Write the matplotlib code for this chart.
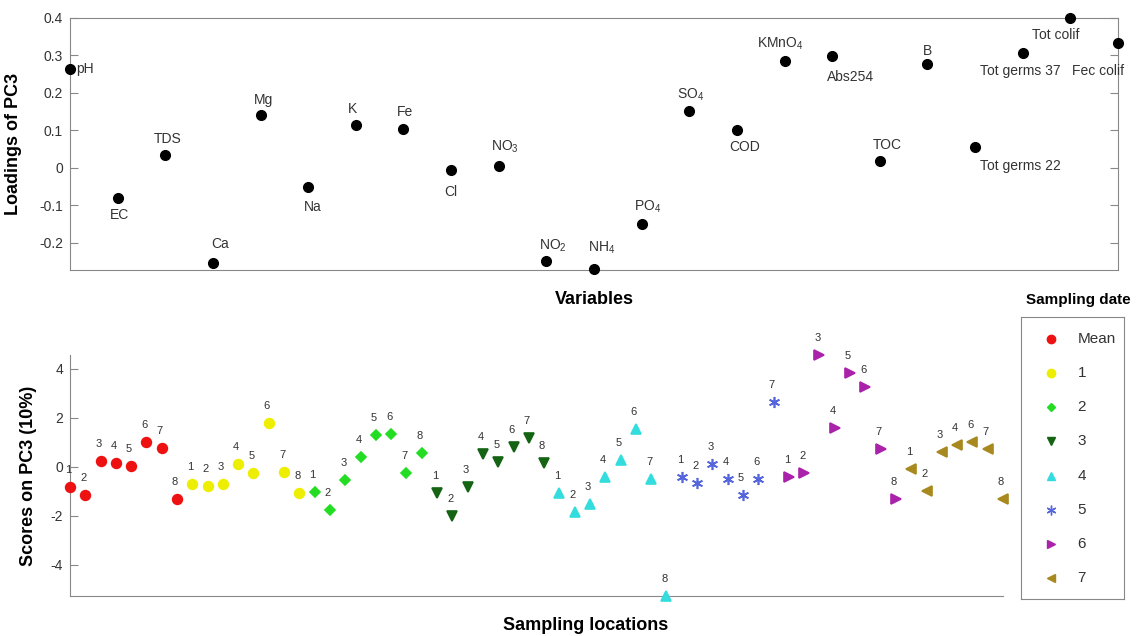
import matplotlib
matplotlib.use('Agg')
import matplotlib.pyplot as plt
import numpy as np

plt.rcParams['font.family'] = ['Liberation Sans', 'DejaVu Sans']
plt.rcParams['mathtext.default'] = 'regular'
plt.rcParams['axes.unicode_minus'] = False

# top panel: loadings of PC3
variables = ['pH', 'EC', 'TDS', 'Ca', 'Mg', 'Na', 'K', 'Fe', 'Cl', 'NO$_3$', 'NO$_2$',
             'NH$_4$', 'PO$_4$', 'SO$_4$', 'COD', 'KMnO$_4$', 'Abs254', 'TOC', 'B',
             'Tot germs 22', 'Tot germs 37', 'Tot colif', 'Fec colif']
loadings = [0.265, -0.080, 0.035, -0.253, 0.141, -0.051, 0.115, 0.104, -0.005, 0.005,
            -0.248, -0.269, -0.149, 0.152, 0.101, 0.285, 0.299, 0.019, 0.277,
            0.056, 0.307, 0.400, 0.333]

# bottom panel: scores on PC3 per sampling date
dates = ['Mean', '1', '2', '3', '4', '5', '6', '7']
scores_mean = [-0.82, -1.14, 0.24, 0.16, 0.04, 1.02, 0.78, -1.30]
scores_d1 = [-0.69, -0.78, -0.69, 0.12, -0.25, 1.79, -0.20, -1.06]
scores_d2 = [-1.02, -1.76, -0.53, 0.41, 1.31, 1.35, -0.25, 0.57]
scores_d3 = [-1.06, -2.00, -0.82, 0.53, 0.20, 0.82, 1.18, 0.16]
scores_d4 = [-1.06, -1.84, -1.51, -0.40, 0.29, 1.55, -0.49, -5.27]
scores_d5 = [-0.40, -0.65, 0.12, -0.49, -1.14, -0.49, 2.65]
scores_d6 = [-0.40, -0.25, 4.57, 1.60, 3.84, 3.27, 0.73, -1.30]
scores_d7 = [-0.08, -0.98, 0.60, 0.90, 1.02, 0.73, -1.30]
locs_full = [1, 2, 3, 4, 5, 6, 7, 8]
locs_d5 = [1, 2, 3, 4, 5, 6, 7]
locs_d7 = [1, 2, 3, 4, 6, 7, 8]

all_scores = [scores_mean, scores_d1, scores_d2, scores_d3, scores_d4, scores_d5, scores_d6, scores_d7]
all_locs = [locs_full] * 5 + [locs_d5, locs_full, locs_d7]

colors = ['#ee1111', '#eeee00', '#22dd22', '#146414', '#33dddd', '#5566dd', '#aa22aa', '#a8891f']
markers = ['o', 'o', 'D', 'v', '^', (6, 2, 0), '>', '<']
msizes = [7, 7, 5.5, 7, 7, 8, 7, 7]

# label offsets (pixels) for the loadings
offsets = [(6, 0), (2, -17), (2, 16), (7, 19), (3, 15), (5, -20), (-3, 16), (2, 17),
           (0, -22), (6, 19), (7, 15), (8, 21), (6, 17), (1, 16), (8, -17), (-4, 17),
           (18, -21), (7, 16), (0, 13), (45, -19), (-2, -18), (-15, -17), (-20, -28)]
aligns = ['left'] + ['center'] * 22

grey = '#333333'
spine_c = '#888888'

fig = plt.figure(figsize=(11.43, 6.36), dpi=100)

ax1 = fig.add_axes([0.0612, 0.5755, 0.9169, 0.3962])
x1 = np.arange(1, len(loadings) + 1)
ax1.plot(x1, loadings, 'o', color='black', markersize=7, clip_on=False, zorder=3)
for i, name in enumerate(variables):
    ax1.annotate(name, (x1[i], loadings[i]), xytext=offsets[i], textcoords='offset pixels',
                 ha=aligns[i], va='center', fontsize=10, color=grey)
ax1.set_xlim(1, 23)
ax1.set_ylim(-0.272, 0.4)
yt = [-0.2, -0.1, 0, 0.1, 0.2, 0.3, 0.4]
ax1.set_yticks(yt)
ax1.set_yticklabels(['%g' % v for v in yt])
ax1.set_xticks([])
ax1.tick_params(axis='y', direction='in', right=True, length=6, pad=5, labelsize=10,
                labelcolor=grey, color=spine_c)
for s in ax1.spines.values():
    s.set_color(spine_c)
ax1.set_ylabel('Loadings of PC3', fontsize=13, fontweight='bold')
ax1.yaxis.set_label_coords(-0.046, 0.5)
ax1.set_xlabel('Variables', fontsize=13, fontweight='bold')
ax1.xaxis.set_label_coords(0.5, -0.083)

ax2 = fig.add_axes([0.0612, 0.0629, 0.8163, 0.3789])
start = 1
for k, sc in enumerate(all_scores):
    xs = np.arange(start, start + len(sc))
    ax2.plot(xs, sc, linestyle='none', marker=markers[k], color=colors[k],
             markersize=msizes[k], markeredgewidth=1.2, clip_on=False, zorder=3)
    for xv, yv, lab in zip(xs, sc, all_locs[k]):
        ax2.annotate(str(lab), (xv, yv), xytext=(-2, 17), textcoords='offset pixels',
                     ha='center', va='center', fontsize=8, color=grey)
    start += len(sc)
ax2.set_xlim(1, start - 1)
ax2.set_ylim(-5.27, 4.57)
ax2.set_yticks([-4, -2, 0, 2, 4])
ax2.set_xticks([])
ax2.tick_params(axis='y', direction='in', length=6, pad=5, labelsize=10,
                labelcolor=grey, color=spine_c)
ax2.spines['top'].set_visible(False)
ax2.spines['right'].set_visible(False)
ax2.spines['left'].set_color(spine_c)
ax2.spines['bottom'].set_color(spine_c)
ax2.set_ylabel('Scores on PC3 (10%)', fontsize=13, fontweight='bold')
ax2.yaxis.set_label_coords(-0.035, 0.5)
ax2.set_xlabel('Sampling locations', fontsize=13, fontweight='bold')
ax2.xaxis.set_label_coords(0.553, -0.087)

# legend drawn in its own box
axl = fig.add_axes([0.8933, 0.0582, 0.0901, 0.4434])
ly = np.linspace(0.922, 0.0745, len(dates))
for k, d in enumerate(dates):
    axl.plot(0.29, ly[k], linestyle='none', marker=markers[k], color=colors[k],
             markersize=msizes[k] - 1, markeredgewidth=1.0)
    axl.text(0.55, ly[k], d, ha='left', va='center', fontsize=11, color=grey)
axl.set_xlim(0, 1)
axl.set_ylim(0, 1)
axl.set_xticks([])
axl.set_yticks([])
for s in axl.spines.values():
    s.set_color(spine_c)
fig.text(0.943, 0.528, 'Sampling date', ha='center', va='center', fontsize=11, fontweight='bold')

fig.savefig('out.png', dpi=100)
